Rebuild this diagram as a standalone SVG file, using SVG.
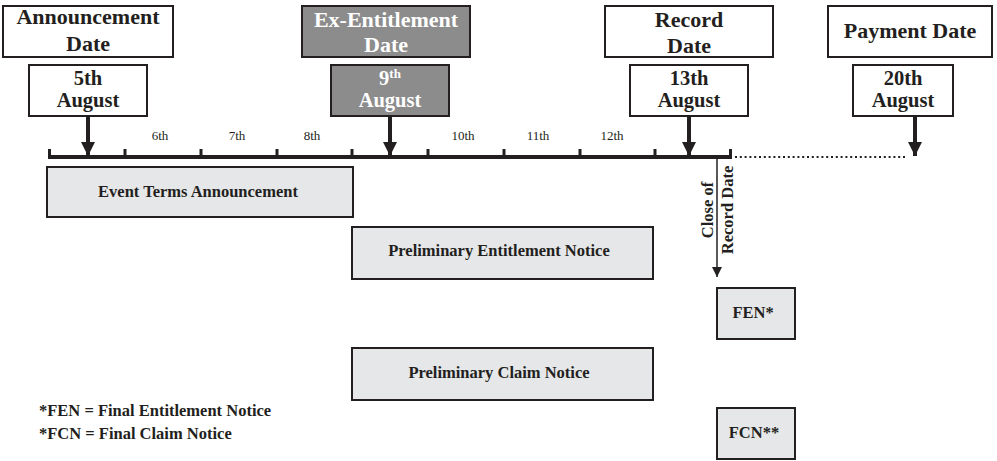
<svg xmlns="http://www.w3.org/2000/svg" width="997" height="461" viewBox="0 0 997 461">
<style>
text{font-family:"Liberation Serif","Times New Roman",serif;font-weight:bold;fill:#231f20}
.hd{font-size:22px;text-anchor:middle}
.dt{font-size:20.5px;text-anchor:middle}
.wh{fill:#ffffff}
.bx{fill:#ffffff;stroke:#231f20;stroke-width:2}
.gb{fill:#8c8c8c;stroke:#231f20;stroke-width:2}
.lb{fill:#e6e7e8;stroke:#231f20;stroke-width:2}
.lt{font-size:16.5px;text-anchor:middle}
.day{font-size:13px;font-weight:normal;text-anchor:middle}
.shaft{stroke:#231f20;stroke-width:4}
</style>
<defs>
<marker id="ah" viewBox="0 0 10 10" refX="10" refY="5" markerWidth="3.5" markerHeight="3.5" orient="auto" markerUnits="strokeWidth">
<path d="M0,0 L10,5 L0,10 Z" fill="#231f20"/>
</marker>
<marker id="ahs" viewBox="0 0 10 10" refX="10" refY="5" markerWidth="10" markerHeight="10" orient="auto" markerUnits="userSpaceOnUse">
<path d="M0,0 L10,5 L0,10 Z" fill="#231f20"/>
</marker>
</defs>

<g id="connectors">
<line x1="48" y1="157" x2="732" y2="157" stroke="#231f20" stroke-width="4"/>
<g stroke="#231f20" stroke-width="3">
<line x1="49.5" y1="149" x2="49.5" y2="157"/>
<line x1="125" y1="149" x2="125" y2="157"/>
<line x1="201" y1="149" x2="201" y2="157"/>
<line x1="277" y1="149" x2="277" y2="157"/>
<line x1="352" y1="149" x2="352" y2="157"/>
<line x1="428" y1="149" x2="428" y2="157"/>
<line x1="504" y1="149" x2="504" y2="157"/>
<line x1="580" y1="149" x2="580" y2="157"/>
<line x1="655" y1="149" x2="655" y2="157"/>
<line x1="730.5" y1="149" x2="730.5" y2="157"/>
</g>
<line x1="735" y1="157" x2="905" y2="157" stroke="#231f20" stroke-width="2" stroke-dasharray="2 2.8"/>
<line x1="88" y1="116" x2="88" y2="156" class="shaft" marker-end="url(#ah)"/>
<line x1="390" y1="116" x2="390" y2="156" class="shaft" marker-end="url(#ah)"/>
<line x1="689" y1="116" x2="689" y2="156" class="shaft" marker-end="url(#ah)"/>
<line x1="915" y1="116" x2="915" y2="156" class="shaft" marker-end="url(#ah)"/>
<line x1="717" y1="157" x2="717" y2="277" stroke="#231f20" stroke-width="1.5" marker-end="url(#ahs)"/>
<text class="lt" transform="translate(713,210) rotate(-90)">Close of</text>
<text class="lt" transform="translate(733,210) rotate(-90)">Record Date</text>
</g>

<g id="announcement-date">
<rect class="bx" x="3" y="6" width="170" height="51"/>
<text class="hd" x="88" y="24">Announcement</text>
<text class="hd" x="88" y="51">Date</text>
</g>
<g id="aug5">
<rect class="bx" x="29" y="65" width="118" height="51"/>
<text class="dt" x="88" y="85">5th</text>
<text class="dt" x="88" y="107">August</text>
</g>

<g id="ex-entitlement-date">
<rect class="gb" x="302" y="6" width="168" height="51"/>
<text class="hd wh" x="386" y="27">Ex-Entitlement</text>
<text class="hd wh" x="386" y="52">Date</text>
</g>
<g id="aug9">
<rect class="gb" x="331" y="65" width="118" height="51"/>
<text class="dt wh" x="390" y="85">9<tspan font-size="13" dy="-7">th</tspan></text>
<text class="dt wh" x="390" y="107">August</text>
</g>

<g id="record-date">
<rect class="bx" x="605" y="6" width="168" height="51"/>
<text class="hd" x="689" y="27">Record</text>
<text class="hd" x="689" y="53">Date</text>
</g>
<g id="aug13">
<rect class="bx" x="630" y="65" width="118" height="51"/>
<text class="dt" x="689" y="85">13th</text>
<text class="dt" x="689" y="107">August</text>
</g>

<g id="payment-date">
<rect class="bx" x="828" y="6" width="164" height="51"/>
<text class="hd" x="910" y="38">Payment Date</text>
</g>
<g id="aug20">
<rect class="bx" x="853" y="65" width="100" height="51"/>
<text class="dt" x="903" y="85">20th</text>
<text class="dt" x="903" y="107">August</text>
</g>

<g id="days">
<text class="day" x="160" y="140">6th</text>
<text class="day" x="237" y="140">7th</text>
<text class="day" x="312" y="140">8th</text>
<text class="day" x="463" y="140">10th</text>
<text class="day" x="538" y="140">11th</text>
<text class="day" x="612" y="140">12th</text>
</g>

<g id="event-terms">
<rect class="lb" x="47" y="167" width="306" height="50"/>
<text class="lt" x="198" y="197">Event Terms Announcement</text>
</g>
<g id="prelim-entitlement">
<rect class="lb" x="352" y="227" width="301" height="52"/>
<text class="lt" x="499" y="256">Preliminary Entitlement Notice</text>
</g>
<g id="prelim-claim">
<rect class="lb" x="352" y="348" width="301" height="52"/>
<text class="lt" x="499" y="378">Preliminary Claim Notice</text>
</g>
<g id="fen">
<rect class="lb" x="717" y="288" width="78" height="51"/>
<text class="lt" x="753" y="318">FEN*</text>
</g>
<g id="fcn">
<rect class="lb" x="717" y="408" width="78" height="51"/>
<text class="lt" x="754" y="438">FCN**</text>
</g>

<g id="legend">
<text x="39" y="416" font-size="16.5">*FEN = Final Entitlement Notice</text>
<text x="39" y="439" font-size="16.5">*FCN = Final Claim Notice</text>
</g>
</svg>
